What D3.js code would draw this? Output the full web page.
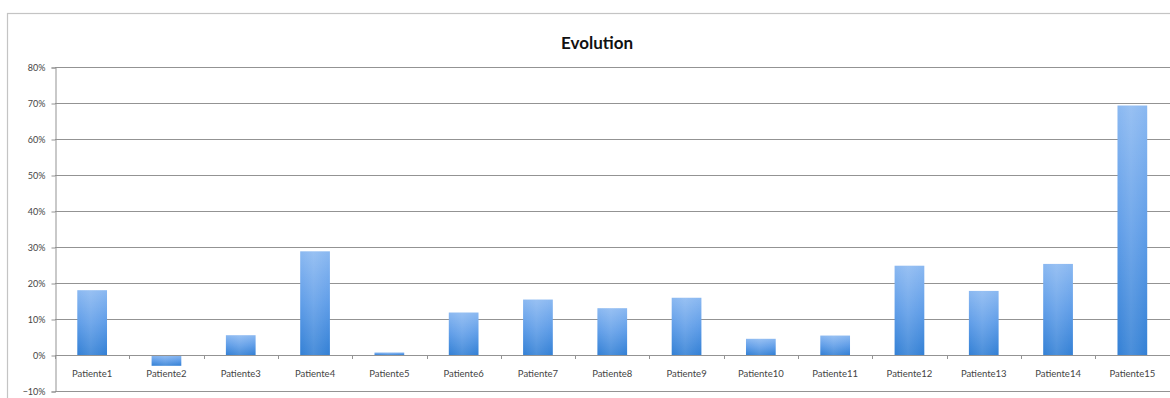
<!DOCTYPE html>
<html>
<head>
<meta charset="utf-8">
<script src="https://cdn.jsdelivr.net/npm/d3@7/dist/d3.min.js"></script>
<style>
  html, body { margin: 0; padding: 0; background: #fff; }
  svg { display: block; }
</style>
</head>
<body>
<svg id="chart" width="1170" height="398"></svg>
<script>
// Chart data
const categories = ["Patiente1","Patiente2","Patiente3","Patiente4","Patiente5","Patiente6","Patiente7","Patiente8","Patiente9","Patiente10","Patiente11","Patiente12","Patiente13","Patiente14","Patiente15"];
const evolution = [0.18, -0.03, 0.055, 0.288, 0.007, 0.118, 0.154, 0.13, 0.159, 0.045, 0.054, 0.248, 0.178, 0.253, 0.693];
const yTicks = [-0.1, 0, 0.1, 0.2, 0.3, 0.4, 0.5, 0.6, 0.7, 0.8];
const title = "Evolution";

const svg = d3.select("#chart");
const W = 1170, H = 398;
const plot = { left: 55, right: 1169.5, top: 67, bottom: 391 };

// Outer chart frame
svg.append("rect")
  .attr("x", 7.5).attr("y", 13.5)
  .attr("width", 1180).attr("height", 400)
  .attr("fill", "#fff").attr("stroke", "#c4c4c4").attr("stroke-width", 1.2);

// Bar gradient
const defs = svg.append("defs");
const grad = defs.append("linearGradient")
  .attr("id", "barGrad").attr("x1", 0).attr("y1", 0).attr("x2", 0).attr("y2", 1);
grad.append("stop").attr("offset", "0%").attr("stop-color", "#8ab8f1");
grad.append("stop").attr("offset", "50%").attr("stop-color", "#5f9de8");
grad.append("stop").attr("offset", "100%").attr("stop-color", "#3380d5");

const gradH = defs.append("linearGradient")
  .attr("id", "barShine").attr("x1", 0).attr("y1", 0).attr("x2", 1).attr("y2", 0);
gradH.append("stop").attr("offset", "0%").attr("stop-color", "#fff").attr("stop-opacity", 0);
gradH.append("stop").attr("offset", "45%").attr("stop-color", "#fff").attr("stop-opacity", 0.12);
gradH.append("stop").attr("offset", "100%").attr("stop-color", "#fff").attr("stop-opacity", 0);

const x = d3.scaleBand()
  .domain(categories)
  .range([plot.left, plot.right])
  .paddingInner(0.6).paddingOuter(0.3);

const y = d3.scaleLinear()
  .domain([-0.1, 0.8])
  .range([plot.bottom, plot.top]);

// Title
svg.append("text")
  .attr("x", 597).attr("y", 49)
  .attr("text-anchor", "middle")
  .attr("font-family", "Lato, 'Open Sans', sans-serif")
  .attr("font-weight", "bold")
  .attr("font-size", 17)
  .attr("fill", "#111")
  .text(title);

// Horizontal gridlines
svg.append("g")
  .selectAll("line")
  .data(yTicks)
  .join("line")
  .attr("x1", plot.left).attr("x2", W)
  .attr("y1", d => Math.round(y(d)) + 0.5)
  .attr("y2", d => Math.round(y(d)) + 0.5)
  .attr("stroke", "#939393").attr("stroke-width", 1);

// Y axis
const yAxis = d3.axisLeft(y)
  .tickValues(yTicks)
  .tickSize(4)
  .tickPadding(6)
  .tickFormat(d3.format(".0%"));

const gy = svg.append("g")
  .attr("transform", `translate(${plot.left + 0.5},0.5)`)
  .call(yAxis);
gy.select(".domain").attr("stroke", "#939393");
gy.selectAll(".tick line").attr("stroke", "#939393");
gy.selectAll(".tick text")
  .attr("font-family", "Lato, 'Open Sans', sans-serif")
  .attr("font-size", 9)
  .attr("fill", "#444");

// Bars
const bars = svg.append("g");
bars.selectAll("rect.bar")
  .data(evolution)
  .join("rect")
  .attr("class", "bar")
  .attr("x", (d, i) => x(categories[i]))
  .attr("width", x.bandwidth())
  .attr("y", d => y(Math.max(0, d)))
  .attr("height", d => Math.abs(y(d) - y(0)))
  .attr("fill", "url(#barGrad)");
bars.selectAll("rect.shine")
  .data(evolution)
  .join("rect")
  .attr("class", "shine")
  .attr("x", (d, i) => x(categories[i]))
  .attr("width", x.bandwidth())
  .attr("y", d => y(Math.max(0, d)))
  .attr("height", d => Math.abs(y(d) - y(0)))
  .attr("fill", "url(#barShine)");

// Category axis at zero
const step = x.step();
const boundaries = d3.range(categories.length + 1).map(i => plot.left + i * step);
const gx = svg.append("g");
gx.append("line")
  .attr("x1", plot.left).attr("x2", W)
  .attr("y1", Math.round(y(0)) + 0.5).attr("y2", Math.round(y(0)) + 0.5)
  .attr("stroke", "#939393");
gx.selectAll("line.tick")
  .data(boundaries)
  .join("line")
  .attr("class", "tick")
  .attr("x1", d => Math.round(d) + 0.5).attr("x2", d => Math.round(d) + 0.5)
  .attr("y1", Math.round(y(0))).attr("y2", Math.round(y(0)) + 4)
  .attr("stroke", "#939393");
gx.selectAll("text")
  .data(categories)
  .join("text")
  .attr("x", d => x(d) + x.bandwidth() / 2)
  .attr("y", y(0) + 22)
  .attr("text-anchor", "middle")
  .attr("font-family", "Lato, 'Open Sans', sans-serif")
  .attr("font-size", 9.5)
  .attr("fill", "#444")
  .text(d => d);
</script>
</body>
</html>
